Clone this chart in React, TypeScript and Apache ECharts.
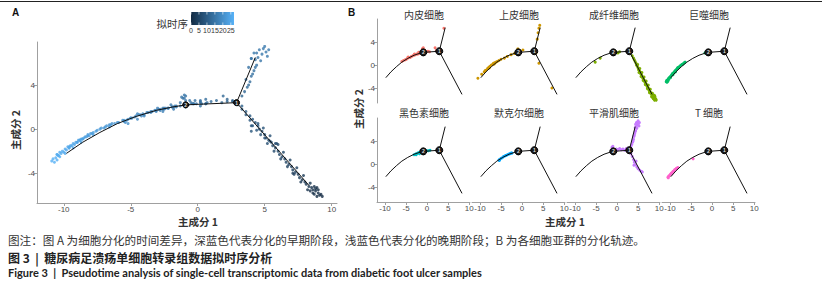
import React, { useEffect, useRef } from 'react';
import * as echarts from 'echarts';

// ---------- data ----------
const X_TICKS = [-10, -5, 0, 5, 10];
const Y_TICKS = [-4, 0, 4];
const PSEUDOTIME_TICKS = [0, 5, 10, 15, 20, 25];
const PSEUDOTIME_MAX = 27;

// trajectory (principal graph)
const LEFT_BRANCH = [[-9.8, -2.2], [-8.6, -1.2], [-7.3, -0.3], [-6.0, 0.5], [-4.6, 1.15], [-3.1, 1.7], [-1.9, 2.0], [-0.9, 2.2]];
const MID_BRANCH = [[-0.9, 2.2], [2.9, 2.4]];
const UP_BRANCH = [[2.9, 2.4], [4.3, 6.5]];
const DOWN_BRANCH = [[2.9, 2.4], [8.3, -5.1]];
const BRANCH_NODES = [[-0.9, 2.2, '2'], [2.9, 2.4, '1']];

const CELL_TYPES = ['内皮细胞', '上皮细胞', '成纤维细胞', '巨噬细胞', '黑色素细胞', '默克尔细胞', '平滑肌细胞', 'T 细胞'];

// [component 1, component 2, pseudotime]
const ENDO = [[-6.0, 0.6, 20.5], [-5.6, 0.8, 20], [-5.2, 0.9, 19.6], [-4.9, 1.0, 19.3], [-4.6, 1.2, 19], [-4.3, 1.3, 18.6], [-4.0, 1.3, 18.3], [-3.7, 1.5, 18], [-3.4, 1.6, 17.6], [-3.1, 1.7, 17.3], [-2.8, 1.8, 17], [-2.5, 1.9, 16.7], [-2.2, 1.9, 16.4], [-1.9, 2.0, 16], [-1.6, 2.1, 15.7], [-1.3, 2.4, 15.4], [-1.1, 2.8, 15.2], [-0.9, 3.0, 15], [-0.6, 2.6, 14.7], [-0.3, 2.3, 14.4], [0.2, 2.4, 14], [0.6, 2.3, 13.6], [1.9, 3.0, 12.5], [2.2, 2.5, 11.5], [4.0, 6.4, 15.5], [-4.5, 1.4, 19], [-3.0, 1.9, 17.2], [-2.0, 2.2, 16.1]];
const EPI = [[-10.5, -2.3, 26], [-9.6, -1.6, 25], [-9.0, -1.2, 24.4], [-8.6, -0.9, 24], [-8.2, -0.6, 23.5], [-7.9, -0.4, 23.2], [-7.6, -0.2, 22.8], [-7.3, 0.0, 22.5], [-7.0, 0.1, 22.2], [-6.8, 0.3, 22], [-6.5, 0.4, 21.6], [-6.2, 0.5, 21.3], [-5.9, 0.6, 21], [-5.5, 0.8, 20.5], [-5.0, 1.0, 20], [-4.2, 1.2, 19], [-3.5, 1.5, 18.2], [-2.6, 1.8, 17], [-1.8, 2.0, 16], [-1.0, 2.8, 15.2], [0.2, 2.6, 13.8], [2.6, 2.6, 11], [3.3, 2.1, 10.8], [3.6, 4.5, 13], [3.8, 5.6, 14.2], [4.0, 6.4, 15], [4.2, 6.9, 15.5], [4.0, 0.3, 8.5], [7.1, -4.0, 3], [-8.8, -1.0, 24.2], [-7.8, -0.5, 23], [-6.6, 0.2, 21.8]];
const FIBRO = [[-5.2, 0.5, 20.5], [-4.0, 1.2, 19], [0.2, 2.1, 13.8], [-0.3, 2.3, 14.3], [0.6, 2.3, 13.5], [3.6, 1.6, 9.5], [3.9, 1.2, 9.2], [4.1, 0.9, 9], [4.3, 0.6, 8.7], [4.5, 0.3, 8.4], [4.6, 0.0, 8.1], [4.8, -0.2, 7.8], [5.0, -0.5, 7.5], [5.1, -0.8, 7.2], [5.3, -1.0, 7], [5.5, -1.2, 6.7], [5.6, -1.5, 6.4], [5.8, -1.7, 6.1], [6.0, -2.0, 5.8], [6.1, -2.3, 5.5], [6.3, -2.5, 5.2], [6.5, -2.7, 4.9], [6.6, -3.0, 4.6], [6.8, -3.2, 4.3], [7.0, -3.4, 4], [7.1, -3.7, 3.7], [7.3, -3.9, 3.4], [7.5, -4.1, 3.1], [7.6, -4.4, 2.8], [7.8, -4.6, 2.5], [8.0, -4.8, 2.2], [8.1, -5.0, 1.9], [8.3, -5.2, 1.6], [8.5, -5.3, 1.3], [8.6, -5.5, 1], [8.8, -5.6, 0.6], [9.0, -5.8, 0.3], [9.2, -5.9, 0], [4.9, 0.1, 7.9], [5.4, -0.6, 7.1], [5.9, -1.3, 6.3], [6.4, -2.1, 5.4], [6.9, -2.8, 4.6], [7.4, -3.5, 3.7], [7.9, -4.2, 2.8], [8.4, -4.9, 1.8], [8.9, -5.3, 0.9], [5.2, -1.3, 6.9], [5.7, -2.0, 6], [6.2, -2.7, 5.1], [6.7, -3.4, 4.2], [7.2, -4.1, 3.3], [7.7, -4.8, 2.4], [8.2, -5.5, 1.4], [8.7, -5.9, 0.6], [9.3, -6.1, 0], [8.6, -5.8, 0.5], [8.8, -5.4, 0.8], [9.0, -5.5, 0.5], [8.4, -5.6, 1.1], [9.1, -6.0, 0.1], [8.7, -5.2, 1.1], [8.9, -6.1, 0.2]];
const MACRO = [[-10.8, -2.7, 26.5], [-10.6, -2.6, 26.3], [-10.4, -2.4, 26], [-10.5, -2.8, 26.4], [-10.2, -2.2, 25.7], [-10.0, -2.1, 25.5], [-9.8, -1.9, 25.2], [-9.6, -1.7, 25], [-9.4, -1.5, 24.7], [-9.2, -1.4, 24.5], [-9.0, -1.2, 24.2], [-8.8, -1.0, 24], [-8.6, -0.9, 23.7], [-8.4, -0.7, 23.5], [-8.2, -0.5, 23.2], [-8.0, -0.4, 23], [-7.8, -0.3, 22.7], [-7.5, -0.1, 22.4], [-7.2, 0.1, 22], [-6.9, 0.2, 21.7], [-6.6, 0.4, 21.4], [-6.4, 0.5, 21.2], [-10.3, -2.5, 26], [-9.9, -2.2, 25.5], [-9.3, -1.7, 24.8], [-8.7, -1.2, 24.1], [-1.7, 2.1, 15.8], [-10.9, -2.9, 26.8], [-10.7, -3.0, 26.7]];
const MELANO = [[-3.1, 1.6, 17.8], [-2.8, 1.7, 17.4], [-2.5, 1.8, 17], [-2.2, 1.9, 16.7], [-1.9, 2.0, 16.3], [-1.6, 2.0, 16], [-1.3, 2.1, 15.6], [-1.0, 2.2, 15.2], [-0.7, 2.2, 14.8], [-0.4, 2.3, 14.5], [-0.1, 2.3, 14.2], [0.3, 2.3, 13.8], [0.7, 2.4, 13.4], [-2.6, 1.6, 17.1], [-1.8, 1.8, 16.2], [-0.9, 2.0, 15.1]];
const MERKEL = [[-5.5, 0.7, 20.2], [-5.3, 0.8, 20], [-5.0, 1.0, 19.7], [-4.7, 1.1, 19.3], [-4.4, 1.3, 19], [-4.1, 1.4, 18.6], [-3.8, 1.5, 18.3], [-3.5, 1.6, 18], [-3.2, 1.7, 17.6], [-2.9, 1.8, 17.3], [-2.6, 1.9, 17], [-2.4, 1.9, 16.8], [-5.4, 0.6, 20.1]];
const SMC = [[4.5, 6.5, 15.2], [4.8, 6.8, 15.5], [5.1, 7.0, 15.8], [4.6, 7.2, 15.6], [5.0, 7.5, 16], [4.4, 6.9, 15.3], [5.2, 6.6, 15.6], [4.7, 6.2, 15], [4.9, 7.3, 15.8], [5.3, 7.2, 16], [4.3, 6.3, 14.9], [4.4, 5.8, 14.6], [4.2, 5.3, 14.1], [4.0, 4.8, 13.6], [3.9, 4.3, 13.1], [3.7, 3.8, 12.6], [3.5, 3.4, 12.1], [3.3, 3.0, 11.6], [4.1, 5.0, 13.9], [3.8, 4.0, 12.8], [4.3, 5.6, 14.4], [-1.2, 2.9, 15], [-0.9, 2.6, 14.8], [-0.5, 2.4, 14.4], [-0.2, 2.6, 14.1], [0.2, 2.5, 13.8], [0.6, 2.7, 13.4], [1.0, 2.5, 13], [1.4, 2.6, 12.5], [1.8, 2.4, 12], [2.2, 2.7, 11.5], [2.6, 2.5, 11], [3.0, 2.2, 10.4], [-1.0, 3.1, 15], [3.3, 1.8, 10], [3.6, 1.3, 9.5], [3.9, 0.8, 9], [4.1, 0.3, 8.5], [4.4, -0.1, 8.1], [4.7, -0.5, 7.6], [5.0, -0.8, 7.3], [5.4, -1.1, 6.9], [5.8, -1.3, 6.5], [6.0, -1.4, 6.3], [4.5, 0.5, 8.3], [4.0, -0.2, 8.6]];
const TCELL = [[-10.5, -2.3, 26], [-10.3, -2.1, 25.8], [-10.1, -2.0, 25.6], [-9.9, -1.8, 25.3], [-9.7, -1.6, 25], [-9.5, -1.5, 24.8], [-9.3, -1.3, 24.6], [-9.1, -1.2, 24.3], [-8.9, -1.0, 24.1], [-8.7, -0.9, 23.9], [-8.5, -0.8, 23.6], [-8.3, -0.7, 23.4], [-8.1, -0.6, 23.2], [-4.5, 0.9, 19.2], [-10.4, -2.4, 26], [-9.6, -1.7, 25]];

const CELL_POINTS = [ENDO, EPI, FIBRO, MACRO, MELANO, MERKEL, SMC, TCELL];

const CAPTION_NOTE = '图注：图 A 为细胞分化的时间差异，深蓝色代表分化的早期阶段，浅蓝色代表分化的晚期阶段；B 为各细胞亚群的分化轨迹。';
const CAPTION_CN = '图 3  |  糖尿病足溃疡单细胞转录组数据拟时序分析';
const CAPTION_EN = 'Figure 3  |  Pseudotime analysis of single-cell transcriptomic data from diabetic foot ulcer samples';

// ---------- styles ----------
const CELL_COLORS = ['#F8766D', '#CD9600', '#7CAE00', '#00BE67', '#00BFC4', '#00A9FF', '#C77CFF', '#FF61CC'];
const AXIS_GRAY = '#a0a0a0';
const LABEL_GRAY = '#4d4d4d';
const CJK = '"Noto Sans CJK SC", "Noto Sans", sans-serif';
const LAT = '"Liberation Sans", Arial, sans-serif';

export default function App() {
  const ref = useRef<HTMLDivElement>(null);
  useEffect(() => {
    const chart = echarts.init(ref.current!, null, { renderer: 'svg' });

    const grids: any[] = [{ left: 37, top: 42, width: 300, height: 161 }];
    const xAxes: any[] = [];
    const yAxes: any[] = [];
    const series: any[] = [];

    const axisLabelStyle = { color: LABEL_GRAY, fontSize: 8, fontFamily: LAT, margin: 2 };

    xAxes.push({
      gridIndex: 0, type: 'value', min: -12, max: 10.4,
      axisLine: { show: true, onZero: false, lineStyle: { color: AXIS_GRAY, width: 1 } },
      axisTick: { show: true, customValues: X_TICKS, length: 3, lineStyle: { color: AXIS_GRAY } },
      axisLabel: { ...axisLabelStyle, customValues: X_TICKS },
      splitLine: { show: false },
    });
    yAxes.push({
      gridIndex: 0, type: 'value', min: -6.7, max: 7.9,
      axisLine: { show: true, onZero: false, lineStyle: { color: AXIS_GRAY, width: 1 } },
      axisTick: { show: true, customValues: Y_TICKS, length: 3, lineStyle: { color: AXIS_GRAY } },
      axisLabel: { ...axisLabelStyle, customValues: Y_TICKS },
      splitLine: { show: false },
    });

    const allPoints = ([] as number[][]).concat(...CELL_POINTS);
    series.push({
      type: 'scatter', xAxisIndex: 0, yAxisIndex: 0, data: allPoints,
      symbolSize: 3, z: 2, silent: true,
    });

    const addTrajectory = (gi: number, nodeSize: number) => {
      [LEFT_BRANCH, MID_BRANCH, UP_BRANCH, DOWN_BRANCH].forEach((b) => {
        series.push({
          type: 'line', xAxisIndex: gi, yAxisIndex: gi, data: b, showSymbol: false,
          lineStyle: { color: '#111', width: 1 }, z: 3, silent: true,
        });
      });
      series.push({
        type: 'scatter', xAxisIndex: gi, yAxisIndex: gi, data: BRANCH_NODES,
        symbolSize: nodeSize, z: 4, silent: true,
        itemStyle: { color: '#1b1b1b', borderColor: '#000', borderWidth: 1, opacity: 1 },
        label: { show: true, position: 'inside', formatter: (p: any) => String(p.value[2]), color: '#ddd', fontSize: 5, fontWeight: 'bold', fontFamily: LAT },
      });
    };
    addTrajectory(0, 6);

    for (let i = 0; i < 8; i++) {
      const r = Math.floor(i / 4);
      const c = i % 4;
      const gi = i + 1;
      grids.push({ left: 377 + 95 * c, top: 19 + 99 * r, width: 93, height: 84 });
      xAxes.push({
        gridIndex: gi, type: 'value', min: -11.9, max: 10.2,
        axisLine: { show: r === 1, onZero: false, lineStyle: { color: AXIS_GRAY, width: 1 } },
        axisTick: { show: r === 1, customValues: X_TICKS, length: 3, lineStyle: { color: AXIS_GRAY } },
        axisLabel: { ...axisLabelStyle, show: r === 1, customValues: X_TICKS },
        splitLine: { show: false },
      });
      yAxes.push({
        gridIndex: gi, type: 'value', min: -6.6, max: 8.0,
        axisLine: { show: c === 0, onZero: false, lineStyle: { color: AXIS_GRAY, width: 1 } },
        axisTick: { show: c === 0, customValues: Y_TICKS, length: 3, lineStyle: { color: AXIS_GRAY } },
        axisLabel: { ...axisLabelStyle, show: c === 0, customValues: Y_TICKS },
        splitLine: { show: false },
      });
      series.push({
        type: 'scatter', xAxisIndex: gi, yAxisIndex: gi, data: CELL_POINTS[i],
        symbolSize: 3, z: 2, silent: true, itemStyle: { color: CELL_COLORS[i], opacity: 1 },
      });
      addTrajectory(gi, 7);
    }

    const graphic: any[] = [];
    graphic.push({ type: 'line', shape: { x1: 0, y1: 1.5, x2: 822, y2: 1.5 }, style: { stroke: '#222', lineWidth: 1.2 } });
    graphic.push({ type: 'text', x: 12, y: 12, style: { text: 'A', fontSize: 10, fontWeight: 'bold', fontFamily: LAT, fill: '#111', textVerticalAlign: 'middle' } });
    graphic.push({ type: 'text', x: 348, y: 12, style: { text: 'B', fontSize: 10, fontWeight: 'bold', fontFamily: LAT, fill: '#111', textVerticalAlign: 'middle' } });

    // legend
    graphic.push({ type: 'text', x: 188, y: 23, style: { text: '拟时序', fontSize: 10.5, fontFamily: CJK, fill: '#333', textAlign: 'right', textVerticalAlign: 'middle' } });
    const barX = 191, barY = 12, barW = 43, barH = 13;
    graphic.push({
      type: 'rect', shape: { x: barX, y: barY, width: barW, height: barH },
      style: { fill: { type: 'linear', x: 0, y: 0, x2: 1, y2: 0, colorStops: [{ offset: 0, color: '#132B43' }, { offset: 1, color: '#56B1F7' }] } },
    });
    PSEUDOTIME_TICKS.forEach((t) => {
      const tx = barX + (t / PSEUDOTIME_MAX) * barW;
      graphic.push({ type: 'line', shape: { x1: tx, y1: barY, x2: tx, y2: barY + 2.5 }, style: { stroke: '#fff', lineWidth: 0.6 } });
      graphic.push({ type: 'line', shape: { x1: tx, y1: barY + barH - 2.5, x2: tx, y2: barY + barH }, style: { stroke: '#fff', lineWidth: 0.6 } });
      graphic.push({ type: 'text', x: tx, y: 30, style: { text: String(t), fontSize: 7, fontFamily: LAT, fill: '#333', textAlign: 'center', textVerticalAlign: 'middle' } });
    });

    // axis titles
    const axisTitle = { fontSize: 10.5, fontFamily: CJK, fill: '#333', fontWeight: 'bold', textAlign: 'center', textVerticalAlign: 'middle' };
    graphic.push({ type: 'text', x: 198, y: 221, style: { ...axisTitle, text: '主成分 1' } });
    graphic.push({ type: 'text', x: 15, y: 130, rotation: Math.PI / 2, style: { ...axisTitle, text: '主成分 2' } });
    graphic.push({ type: 'text', x: 565, y: 221, style: { ...axisTitle, text: '主成分 1' } });
    graphic.push({ type: 'text', x: 358, y: 109, rotation: Math.PI / 2, style: { ...axisTitle, text: '主成分 2' } });

    // strip titles
    CELL_TYPES.forEach((name, i) => {
      const r = Math.floor(i / 4);
      const c = i % 4;
      graphic.push({ type: 'text', x: 377 + 95 * c + 47, y: 14 + 98 * r, style: { text: name, fontSize: 10, fontFamily: CJK, fill: '#333', textAlign: 'center', textVerticalAlign: 'middle' } });
    });

    // caption
    graphic.push({ type: 'text', x: 8, y: 240, style: { text: CAPTION_NOTE, fontSize: 11.6, fontFamily: CJK, fill: '#333', textVerticalAlign: 'middle' } });
    graphic.push({ type: 'text', x: 8, y: 257, style: { text: CAPTION_CN, fontSize: 12, fontWeight: 'bold', fontFamily: CJK, fill: '#222', textVerticalAlign: 'middle' } });
    graphic.push({ type: 'text', x: 8, y: 272, style: { text: CAPTION_EN, fontSize: 11, fontWeight: 'bold', fontFamily: 'Lato, "Liberation Sans", sans-serif', fill: '#222', textVerticalAlign: 'middle' } });

    chart.setOption({
      animation: false,
      backgroundColor: '#fff',
      grid: grids,
      xAxis: xAxes,
      yAxis: yAxes,
      visualMap: [{ show: false, type: 'continuous', seriesIndex: 0, dimension: 2, min: 0, max: PSEUDOTIME_MAX, inRange: { color: ['#132B43', '#56B1F7'] } }],
      series,
      graphic,
    });
    return () => chart.dispose();
  }, []);
  return <div ref={ref} style={{ position: 'absolute', left: 0, top: 0, width: 822, height: 289, background: '#fff' }} />;
}
